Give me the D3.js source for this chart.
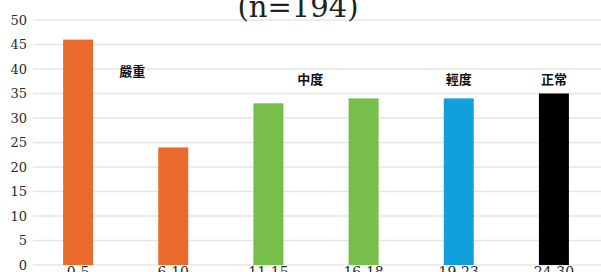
<!DOCTYPE html>
<html>
<head>
<meta charset="utf-8">
<script src="https://cdn.jsdelivr.net/npm/d3@7"></script>
<style>
  html, body { margin: 0; padding: 0; background: #fff; }
  svg { display: block; }
</style>
</head>
<body>
<svg id="chart" width="601" height="272"></svg>
<script>
// Score ranges and counts (n=194)
const categories = ["0-5", "6-10", "11-15", "16-18", "19-23", "24-30"];
const counts = [46, 24, 33, 34, 34, 35];
const barColors = ["#e96a2a", "#e96a2a", "#78be4b", "#78be4b", "#10a0dc", "#000000"];
const yTicks = [0, 5, 10, 15, 20, 25, 30, 35, 40, 45, 50];

// Severity labels: anchored between/at categories, at a value level
const severityText = ["嚴重", "中度", "輕度", "正常"];
const severityFrom = ["0-5", "11-15", "19-23", "24-30"];
const severityTo = ["6-10", "16-18", "19-23", "24-30"];
const severityShift = [0.07, -0.06, 0, 0];   // fraction of step
const severityLevel = [39.4, 37.8, 37.8, 37.8];

const W = 601, H = 272;
const svg = d3.select("#chart");

const x = d3.scaleBand(categories, [30.5, 601.5]).paddingInner(0.685).paddingOuter(0.3425);
const y = d3.scaleLinear([0, 50], [265, 20]);

// Grid
svg.append("g").selectAll("line").data(yTicks).join("line")
  .attr("x1", 33).attr("x2", W)
  .attr("y1", d => y(d)).attr("y2", d => y(d))
  .attr("stroke", "#e9e4e4").attr("stroke-width", 1.5);

// Y tick labels
svg.append("g").selectAll("text").data(yTicks).join("text")
  .attr("x", 27).attr("y", d => y(d)).attr("dy", "0.35em")
  .attr("text-anchor", "end")
  .attr("font-family", "DejaVu Serif").attr("font-size", 13).attr("fill", "#2a2a2a")
  .text(d => d);

// Bars
svg.append("g").selectAll("rect").data(categories).join("rect")
  .attr("x", d => x(d)).attr("width", x.bandwidth())
  .attr("y", (d, i) => y(counts[i])).attr("height", (d, i) => y(0) - y(counts[i]))
  .attr("fill", (d, i) => barColors[i]);

// X labels (cut off at the bottom, as in the source image)
svg.append("g").selectAll("text").data(categories).join("text")
  .attr("x", d => x(d) + x.bandwidth() / 2).attr("y", 277)
  .attr("text-anchor", "middle")
  .attr("font-family", "DejaVu Serif").attr("font-size", 14).attr("fill", "#2a2a2a")
  .text(d => d);

// Severity labels
svg.append("g").selectAll("text").data(severityText).join("text")
  .attr("x", (d, i) => (x(severityFrom[i]) + x(severityTo[i])) / 2 + x.bandwidth() / 2 + severityShift[i] * x.step())
  .attr("y", (d, i) => y(severityLevel[i])).attr("dy", "0.35em")
  .attr("text-anchor", "middle")
  .attr("font-family", "Noto Sans CJK TC").attr("font-weight", 700).attr("font-size", 13)
  .attr("fill", "#111")
  .text(d => d);

// Title
svg.append("text").attr("x", 298).attr("y", 17)
  .attr("text-anchor", "middle")
  .attr("font-family", "DejaVu Serif").attr("font-size", 29).attr("fill", "#222")
  .text("(n=194)");
</script>
</body>
</html>
